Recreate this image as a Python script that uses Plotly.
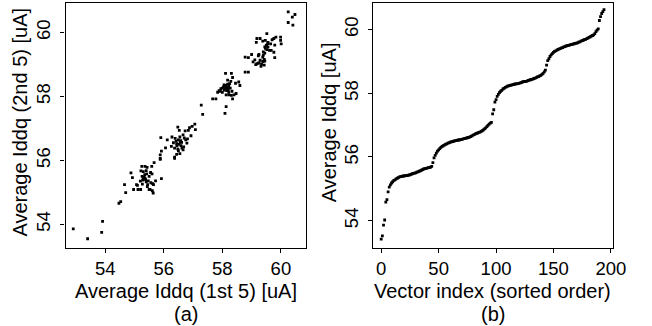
import plotly.graph_objects as go

# ---- Panel (a): average Iddq of 1st 5 vs 2nd 5 measurements ----
first5 = [
    52.91, 53.40, 53.88, 53.91, 54.47, 54.53,
    54.70, 54.66, 54.93, 54.88, 54.97, 55.12, 55.21, 55.07, 55.10, 55.36, 55.30, 55.33, 55.38, 55.28,
    55.25, 55.36, 55.43, 55.59, 55.22, 55.30, 55.40, 55.55, 55.60, 55.67, 55.88, 55.88, 55.92, 55.92,
    55.65, 55.62, 55.45, 55.44, 55.61, 55.64, 55.50, 55.53, 55.27, 55.72, 55.40, 55.47, 55.35, 55.26,
    55.50, 55.20, 55.42, 55.56,
    55.88, 56.06, 55.90, 56.12, 56.26, 56.28, 56.37, 56.37, 56.37, 56.48, 56.66, 56.59, 56.44, 56.61,
    56.50, 56.39, 56.55, 56.75, 56.81, 56.79, 56.73, 56.84, 56.88, 56.97, 57.06, 57.08, 56.93, 56.48,
    56.53, 56.44, 56.55, 56.68, 56.45, 56.52, 56.58, 56.42, 56.70, 56.33, 56.62, 56.50, 56.56, 56.66,
    57.33, 57.28, 57.67, 57.78, 58.09, 58.13,
    58.11, 58.31, 58.35, 58.18, 58.78, 58.89, 58.45, 58.56, 58.60, 57.89, 57.95, 58.04, 58.11, 58.18,
    58.22, 58.27, 58.07, 58.15, 58.22, 58.33, 58.00, 58.13, 58.22, 58.31, 58.40, 58.47, 58.35, 57.93,
    57.84, 58.29, 58.00, 58.09, 58.18, 58.14, 58.20, 58.25, 58.06,
    58.78, 58.89, 59.00, 59.14, 59.25, 59.38, 59.45,
    59.52, 59.18, 59.29, 59.16, 59.38, 59.47, 59.56, 59.70, 59.76, 59.83, 59.99, 59.99, 60.01, 59.65,
    59.79, 59.52, 59.56, 59.47, 59.52, 59.40, 59.45, 59.40, 59.38, 59.43, 59.43, 59.61, 59.67, 59.76,
    59.79, 59.25, 59.23, 59.29, 59.18, 59.25, 59.34, 59.43, 59.32, 59.11, 59.05, 59.50, 59.45, 59.55,
    60.25, 60.48, 60.39, 60.25, 60.41,
]
second5 = [
    53.86, 53.55, 53.75, 54.09, 54.66, 54.71,
    54.99, 55.24, 55.46, 55.61, 55.09, 55.09, 55.09, 55.24, 55.22, 55.44, 55.42, 55.47, 55.40, 55.38,
    55.81, 55.81, 55.78, 55.81, 55.67, 55.65, 55.68, 55.62, 55.58, 55.93, 56.03, 56.17, 56.29, 55.43,
    55.24, 55.27, 55.24, 55.18, 55.05, 54.98, 55.09, 55.09, 55.26, 55.36, 55.33, 55.36, 55.55, 55.50,
    55.50, 55.35, 55.58, 55.30,
    56.06, 56.39, 56.71, 56.64, 56.44, 56.73, 56.06, 56.10, 56.38, 56.35, 56.33, 56.46, 56.52, 56.56,
    56.64, 56.69, 56.73, 56.64, 56.67, 56.54, 56.92, 56.94, 57.02, 57.06, 57.13, 56.96, 56.77, 57.04,
    56.94, 56.19, 56.21, 56.42, 56.45, 56.50, 56.62, 56.60, 56.70, 56.55, 56.38, 56.30, 56.56, 56.80,
    57.44, 57.73, 57.92, 57.92, 57.47, 57.68,
    58.72, 58.72, 58.59, 58.51, 58.76, 58.76, 58.41, 58.45, 58.34, 58.18, 58.24, 58.30, 58.34, 58.38,
    58.32, 58.26, 58.20, 58.18, 58.13, 58.16, 58.13, 58.05, 58.05, 58.03, 58.05, 58.09, 57.92, 58.16,
    58.13, 58.47, 58.26, 58.24, 58.26, 58.28, 58.20, 58.40, 58.36,
    59.23, 59.21, 59.31, 58.99, 59.05, 59.09, 59.11,
    59.96, 59.81, 59.81, 59.69, 59.73, 59.75, 59.69, 59.77, 59.81, 59.85, 59.85, 59.75, 59.64, 59.64,
    59.60, 59.58, 59.54, 59.50, 59.46, 59.39, 59.35, 59.29, 59.23, 59.16, 59.10, 59.44, 59.44, 59.38,
    59.21, 59.31, 59.27, 59.13, 59.02, 59.04, 59.00, 58.98, 58.94, 59.14, 59.08, 59.60, 59.55, 59.65,
    60.64, 60.56, 60.48, 60.31, 60.23,
]

# ---- Panel (b): average Iddq per vector, sorted ----
sorted_avg = [
    53.42, 53.52, 53.86, 54.02, 54.58, 54.66, 54.90, 55.05, 55.12, 55.18,
    55.22, 55.26, 55.28, 55.31, 55.33, 55.35, 55.37, 55.38, 55.39, 55.40,
    55.40, 55.41, 55.41, 55.42, 55.43, 55.44, 55.45, 55.47, 55.48, 55.49,
    55.50, 55.52, 55.53, 55.55, 55.56, 55.58, 55.60, 55.62, 55.63, 55.64,
    55.65, 55.66, 55.66, 55.68, 55.70, 55.82, 55.97, 56.05, 56.12, 56.18,
    56.22, 56.26, 56.30, 56.33, 56.35, 56.37, 56.39, 56.41, 56.43, 56.44,
    56.46, 56.47, 56.48, 56.49, 56.50, 56.51, 56.52, 56.53, 56.53, 56.54,
    56.55, 56.56, 56.57, 56.58, 56.59, 56.60, 56.61, 56.62, 56.64, 56.66,
    56.68, 56.70, 56.72, 56.74, 56.75, 56.77, 56.78, 56.80, 56.82, 56.85,
    56.88, 56.91, 56.95, 56.99, 57.03, 57.06, 57.08, 57.35, 57.48, 57.72,
    57.80, 57.90, 57.96, 58.02, 58.06, 58.09, 58.13, 58.15, 58.18, 58.20,
    58.22, 58.23, 58.24, 58.25, 58.26, 58.27, 58.28, 58.29, 58.29, 58.30,
    58.31, 58.32, 58.33, 58.35, 58.36, 58.37, 58.37, 58.38, 58.40, 58.41,
    58.42, 58.43, 58.44, 58.46, 58.47, 58.49, 58.51, 58.52, 58.54, 58.56,
    58.59, 58.62, 58.67, 58.72, 58.88, 59.02, 59.08, 59.15, 59.20, 59.24,
    59.28, 59.31, 59.33, 59.35, 59.37, 59.39, 59.40, 59.42, 59.43, 59.45,
    59.46, 59.48, 59.49, 59.50, 59.51, 59.52, 59.53, 59.54, 59.55, 59.56,
    59.57, 59.58, 59.60, 59.61, 59.63, 59.65, 59.66, 59.68, 59.69, 59.71,
    59.73, 59.75, 59.77, 59.79, 59.81, 59.83, 59.87, 59.93, 59.98, 60.02,
    60.28, 60.40, 60.50, 60.56, 60.62,
]
vector_index = list(range(len(sorted_avg)))

tick_a = [54, 56, 58, 60]
tick_b_x = [0, 50, 100, 150, 200]
tick_b_y = [54, 56, 58, 60]

FONT = "Liberation Sans, Arial, sans-serif"
FS_TICK = 18.5
FS_TITLE = 20

fig = go.Figure()
marker = dict(symbol="square", size=2.8, color="black", line=dict(width=0))
fig.add_trace(go.Scatter(x=first5, y=second5, mode="markers", marker=marker,
                         xaxis="x", yaxis="y", showlegend=False))
fig.add_trace(go.Scatter(x=vector_index, y=sorted_avg, mode="markers", marker=marker,
                         xaxis="x2", yaxis="y2", showlegend=False))

W, H = 652, 326
ytop, ybot = 1 - 3.3 / H, 1 - 247.7 / H

axis_common = dict(showline=True, mirror=True, linecolor="black", linewidth=1.4,
                   ticks="outside", ticklen=4, tickwidth=1.2, tickcolor="black",
                   showgrid=False, zeroline=False,
                   tickfont=dict(family=FONT, size=FS_TICK, color="black"))

fig.update_layout(
    width=W, height=H,
    margin=dict(l=0, r=0, t=0, b=0),
    paper_bgcolor="white", plot_bgcolor="white",
    font=dict(family=FONT, size=FS_TICK, color="black"),
    xaxis=dict(domain=[67 / W, 312.3 / W], range=[52.65, 60.86], tickvals=tick_a,
               anchor="y", **axis_common),
    yaxis=dict(domain=[ybot, ytop], range=[53.27, 60.91], tickvals=tick_a,
               tickangle=-90, anchor="x", ticklabelstandoff=3, **axis_common),
    xaxis2=dict(domain=[381 / W, 625.3 / W], range=[-6.8, 201.7], tickvals=tick_b_x,
                anchor="y2", **axis_common),
    yaxis2=dict(domain=[ybot, ytop], range=[53.15, 60.82], tickvals=tick_b_y,
                tickangle=-90, anchor="x2", ticklabelstandoff=3, **axis_common),
)

ann = dict(xref="paper", yref="paper", showarrow=False,
           font=dict(family=FONT, size=FS_TITLE, color="black"))
fig.add_annotation(text="Average Iddq (1st 5) [uA]", x=189.5 / W, y=1 - 291 / H,
                   xanchor="center", yanchor="middle", **ann)
fig.add_annotation(text="(a)", x=189.5 / W, y=1 - 314 / H,
                   xanchor="center", yanchor="middle", **ann)
fig.add_annotation(text="Vector index (sorted order)", x=503 / W, y=1 - 291 / H,
                   xanchor="center", yanchor="middle", **ann)
fig.add_annotation(text="(b)", x=503 / W, y=1 - 314 / H,
                   xanchor="center", yanchor="middle", **ann)
fig.add_annotation(text="Average Iddq (2nd 5) [uA]", x=20 / W, y=1 - 122 / H,
                   xanchor="center", yanchor="middle", textangle=-90, **ann)
fig.add_annotation(text="Average Iddq [uA]", x=336 / W, y=1 - 122 / H,
                   xanchor="center", yanchor="middle", textangle=-90, **ann)

fig.write_html("out.html")
